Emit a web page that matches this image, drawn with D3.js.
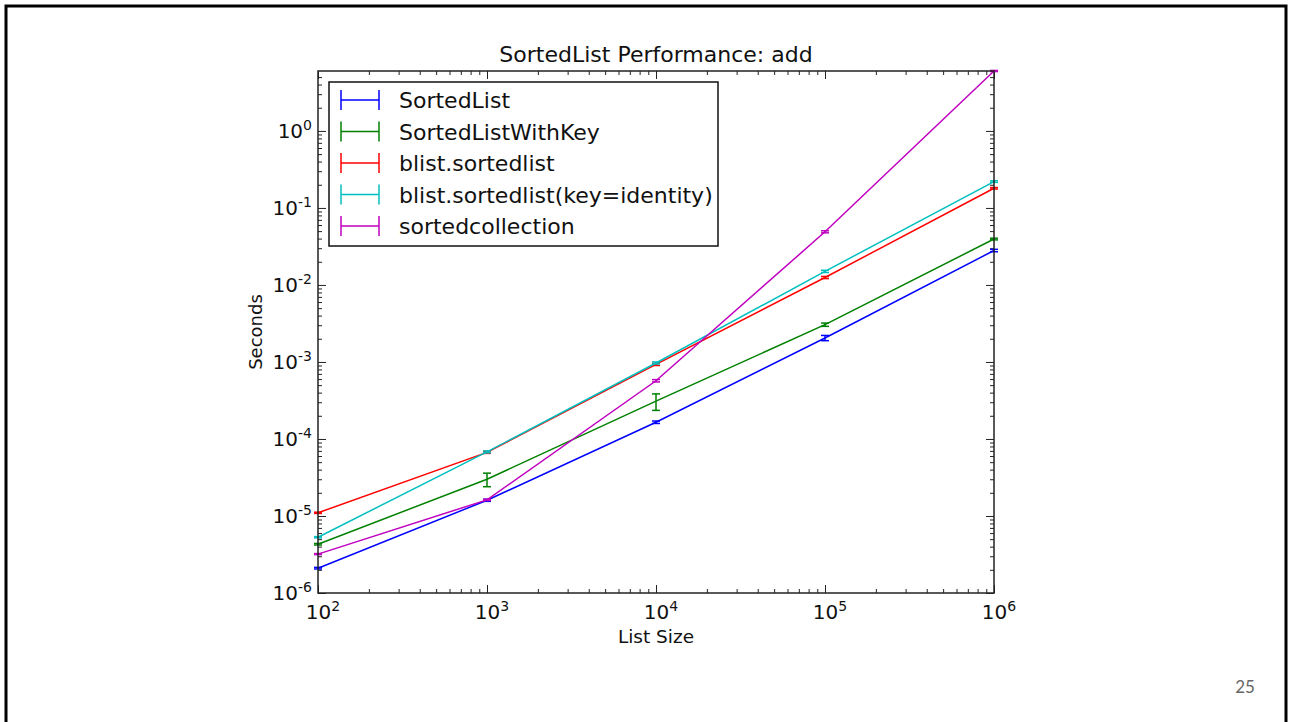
<!DOCTYPE html>
<html>
<head>
<meta charset="utf-8">
<script src="https://cdn.jsdelivr.net/npm/d3@7"></script>
<style>
  body { margin: 0; background: #fff; }
  svg { display: block; }
  text { font-family: "DejaVu Sans", sans-serif; fill: #111; }
</style>
</head>
<body>
<div id="chart"></div>
<script>
// list sizes on the x axis
const sizes = [1e2, 1e3, 1e4, 1e5, 1e6];

// mean timings (seconds) per implementation
const sortedList = [2.1e-6, 1.6e-5, 1.65e-4, 2.05e-3, 2.8e-2];
const sortedListWithKey = [4.3e-6, 3.0e-5, 3.1e-4, 3.05e-3, 3.95e-2];
const blistSorted = [1.1e-5, 6.7e-5, 9.3e-4, 1.25e-2, 1.8e-1];
const blistSortedKey = [5.3e-6, 6.8e-5, 9.7e-4, 1.5e-2, 2.2e-1];
const sortedCollection = [3.2e-6, 1.62e-5, 5.7e-4, 4.9e-2, 6.0];

// error half-widths (seconds)
const sortedListErr = [0.05e-6, 0.5e-6, 0.6e-5, 1.6e-4, 0.1e-2];
const sortedListWithKeyErr = [0.1e-6, 0.6e-5, 0.75e-4, 0.15e-3, 0.1e-2];
const blistSortedErr = [0.2e-6, 0.2e-5, 0.3e-4, 0.4e-3, 0.4e-2];
const blistSortedKeyErr = [0.1e-6, 0.2e-5, 0.3e-4, 0.5e-3, 0.5e-2];
const sortedCollectionErr = [0.05e-6, 0.3e-6, 0.2e-4, 0.15e-2, 0.1];

const seriesNames = ["SortedList", "SortedListWithKey", "blist.sortedlist",
  "blist.sortedlist(key=identity)", "sortedcollection"];
const seriesColors = ["#0000ff", "#008000", "#ff0000", "#00bfbf", "#bf00bf"];

const xDecades = [2, 3, 4, 5, 6];
const yDecades = [-6, -5, -4, -3, -2, -1, 0];

const series = [
  { values: sortedList, err: sortedListErr },
  { values: sortedListWithKey, err: sortedListWithKeyErr },
  { values: blistSorted, err: blistSortedErr },
  { values: blistSortedKey, err: blistSortedKeyErr },
  { values: sortedCollection, err: sortedCollectionErr },
].map((s, i) => ({ ...s, name: seriesNames[i], color: seriesColors[i] }));

const W = 1292, H = 722;
const plot = { left: 318, right: 994, top: 71, bottom: 593 };

const svg = d3.select("#chart").append("svg")
  .attr("width", W).attr("height", H);

// slide frame
svg.append("rect")
  .attr("x", 6).attr("y", 6).attr("width", 1280).attr("height", 730)
  .attr("fill", "none").attr("stroke", "#000").attr("stroke-width", 3);

svg.append("text")
  .attr("x", 1245).attr("y", 693)
  .attr("text-anchor", "middle")
  .style("font-family", "Lato, 'Open Sans', sans-serif")
  .style("font-size", "17px").style("fill", "#666")
  .text("25");

const x = d3.scaleLog().domain([1e2, 1e6]).range([plot.left, plot.right]);
const y = d3.scaleLog().domain([1e-6, 6]).range([plot.bottom, plot.top]);

// minor tick values
function minors(scale) {
  const [a, b] = scale.domain();
  const out = [];
  for (let e = Math.floor(Math.log10(a)); e <= Math.ceil(Math.log10(b)); e++) {
    for (let m = 2; m <= 9; m++) {
      const v = m * Math.pow(10, e);
      if (v > a && v < b) out.push(v);
    }
  }
  return out;
}
const xMajor = xDecades.map(e => Math.pow(10, e));
const yMajor = yDecades.map(e => Math.pow(10, e));

const axisG = svg.append("g");
function tickAxis(gen, scale, vals, size, transform) {
  axisG.append("g")
    .attr("transform", transform)
    .call(gen(scale).tickValues(vals).tickSizeInner(-size).tickSizeOuter(0).tickFormat(""))
    .call(g => g.select(".domain").remove())
    .call(g => g.selectAll("line").attr("stroke", "#222").attr("stroke-width", 1));
}
tickAxis(d3.axisBottom, x, xMajor, 8, `translate(0,${plot.bottom})`);
tickAxis(d3.axisBottom, x, minors(x), 4, `translate(0,${plot.bottom})`);
tickAxis(d3.axisTop, x, xMajor, 8, `translate(0,${plot.top})`);
tickAxis(d3.axisTop, x, minors(x), 4, `translate(0,${plot.top})`);
tickAxis(d3.axisLeft, y, yMajor, 8, `translate(${plot.left},0)`);
tickAxis(d3.axisLeft, y, minors(y), 4, `translate(${plot.left},0)`);
tickAxis(d3.axisRight, y, yMajor, 8, `translate(${plot.right},0)`);
tickAxis(d3.axisRight, y, minors(y), 4, `translate(${plot.right},0)`);

// data lines with error bars
const line = d3.line().x((d, i) => x(sizes[i])).y(d => y(d));
const cap = 4;
series.forEach(s => {
  const g = svg.append("g");
  g.append("path")
    .attr("d", line(s.values))
    .attr("fill", "none").attr("stroke", s.color).attr("stroke-width", 1.5);
  s.values.forEach((v, i) => {
    const cx = x(sizes[i]);
    const lo = y(Math.max(v - s.err[i], 1e-9)), hi = y(v + s.err[i]);
    g.append("line").attr("x1", cx).attr("x2", cx).attr("y1", lo).attr("y2", hi)
      .attr("stroke", s.color).attr("stroke-width", 1.5);
    [lo, hi].forEach(yy => g.append("line")
      .attr("x1", cx - cap).attr("x2", cx + cap).attr("y1", yy).attr("y2", yy)
      .attr("stroke", s.color).attr("stroke-width", 1.5));
  });
});

// plot frame
svg.append("rect")
  .attr("x", plot.left).attr("y", plot.top)
  .attr("width", plot.right - plot.left).attr("height", plot.bottom - plot.top)
  .attr("fill", "none").attr("stroke", "#222").attr("stroke-width", 1.5);

// tick labels: 10^n
function powLabel(sel, e) {
  sel.append("tspan").text("10");
  sel.append("tspan").attr("dy", "-0.55em").style("font-size", "14px").text(e);
}
xDecades.forEach(e => {
  svg.append("text")
    .attr("x", x(Math.pow(10, e)) + 5).attr("y", plot.bottom + 26)
    .attr("text-anchor", "middle").style("font-size", "20px")
    .call(powLabel, e);
});
yDecades.forEach(e => {
  svg.append("text")
    .attr("x", plot.left - 6).attr("y", y(Math.pow(10, e)) + 7)
    .attr("text-anchor", "end").style("font-size", "20px")
    .call(powLabel, e);
});

// titles
svg.append("text")
  .attr("x", (plot.left + plot.right) / 2).attr("y", plot.top - 9)
  .attr("text-anchor", "middle").style("font-size", "22px")
  .text("SortedList Performance: add");
svg.append("text")
  .attr("x", (plot.left + plot.right) / 2).attr("y", plot.bottom + 50)
  .attr("text-anchor", "middle").style("font-size", "18.5px")
  .text("List Size");
svg.append("text")
  .attr("transform", `translate(262,${(plot.top + plot.bottom) / 2}) rotate(-90)`)
  .attr("text-anchor", "middle").style("font-size", "18px")
  .text("Seconds");

// legend
const legend = svg.append("g").attr("transform", "translate(329,82)");
legend.append("rect")
  .attr("width", 389).attr("height", 164)
  .attr("fill", "#fff").attr("stroke", "#111").attr("stroke-width", 1.5);
series.forEach((s, i) => {
  const ly = 18 + i * 31.5;
  const r = legend.append("g").attr("transform", `translate(0,${ly})`);
  r.append("line").attr("x1", 12).attr("x2", 50).attr("y1", 0).attr("y2", 0)
    .attr("stroke", s.color).attr("stroke-width", 1.5);
  [12, 50].forEach(xx => r.append("line")
    .attr("x1", xx).attr("x2", xx).attr("y1", -10).attr("y2", 10)
    .attr("stroke", s.color).attr("stroke-width", 1.5));
  r.append("text").attr("x", 70).attr("y", 8)
    .style("font-size", "22px").text(s.name);
});
</script>
</body>
</html>
